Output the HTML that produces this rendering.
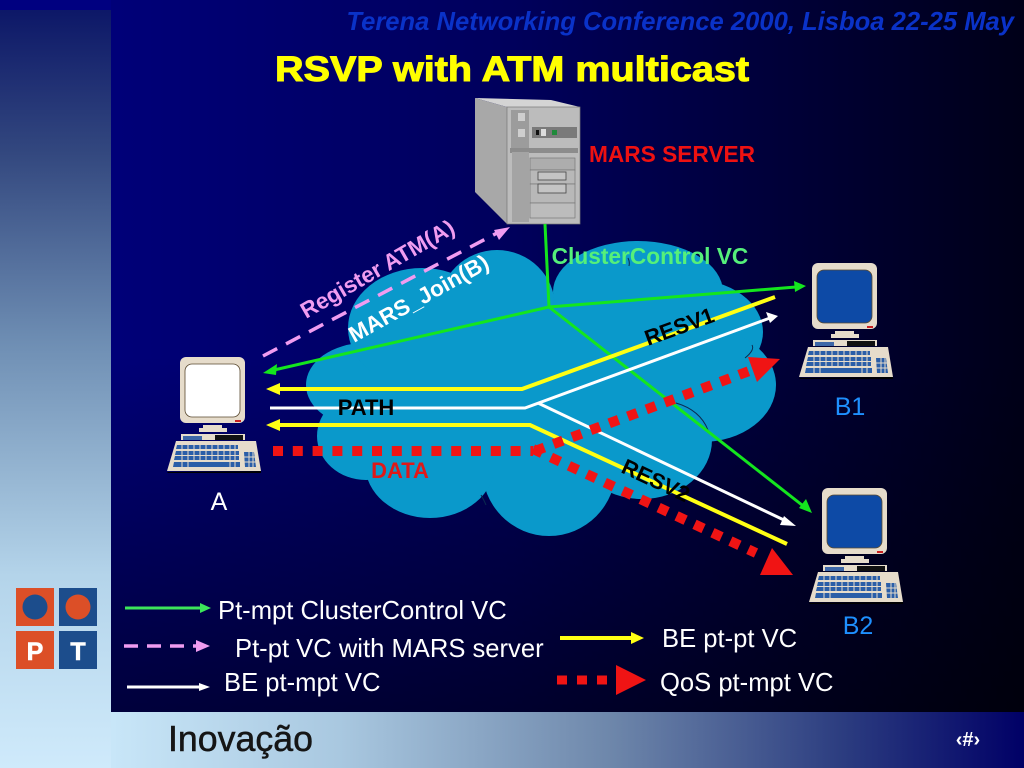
<!DOCTYPE html>
<html><head><meta charset="utf-8"><style>
html,body{margin:0;padding:0;background:#000}
svg{display:block}
text{font-family:"Liberation Sans",sans-serif}
</style></head><body>
<svg xmlns="http://www.w3.org/2000/svg" width="1024" height="768" viewBox="0 0 1024 768">
<defs>
<linearGradient id="bg" x1="0" y1="0" x2="1" y2="0"><stop offset="0" stop-color="#000080"/><stop offset="0.5" stop-color="#00005c"/><stop offset="1" stop-color="#000018"/></linearGradient>
<linearGradient id="dim" x1="0" y1="0" x2="0" y2="1"><stop offset="0.5" stop-color="#000" stop-opacity="0"/><stop offset="1" stop-color="#000" stop-opacity="0.5"/></linearGradient>
<linearGradient id="side" x1="0" y1="0" x2="0" y2="1"><stop offset="0" stop-color="#0a1466"/><stop offset="0.2" stop-color="#33487f"/><stop offset="0.45" stop-color="#6f8fb4"/><stop offset="0.75" stop-color="#b4d4ea"/><stop offset="1" stop-color="#cfeafb"/></linearGradient>
<linearGradient id="bot" x1="0" y1="0" x2="1" y2="0"><stop offset="0" stop-color="#c8e6f8"/><stop offset="0.25" stop-color="#a9c8e0"/><stop offset="0.55" stop-color="#6d86aa"/><stop offset="0.8" stop-color="#2c3d80"/><stop offset="1" stop-color="#000066"/></linearGradient>
<g id="pc">
<rect x="0" y="0" width="65" height="66" rx="6" fill="#e6dccb"/>
<rect x="5" y="7" width="55" height="53" rx="7" fill="var(--s)" stroke="#5a4a30" stroke-width="0.8"/>
<rect x="55" y="63" width="6" height="2" fill="#c92020"/>
<rect x="23" y="68" width="19" height="4" fill="#e6dccb"/>
<rect x="19" y="71" width="28" height="4" fill="#e6dccb"/>
<rect x="1" y="77" width="64" height="6" fill="#e6dccb"/>
<rect x="3" y="79" width="19" height="4" fill="#3d67a8"/>
<rect x="35" y="78" width="28" height="5" fill="#111"/>
<path d="M-13 115L-12 116H81V114Z" fill="#000"/>
<path d="M-4 84H76L81 114H-13Z" fill="#e6dccb"/>
<g fill="#2a5ea8">
<path d="M-3 88H58V92H-4Z"/>
<path d="M-4 94H59V98H-5Z"/>
<path d="M-5 99H59V103H-6Z"/>
<path d="M-6 105H60V110H-7Z"/>
<path d="M64 95H74L76 110H65Z"/>
</g>
<g stroke="#e6dccb" stroke-width="1" fill="none"><path d="M2 87V111M8 87V111M14 87V104M20 87V104M26 87V104M32 87V104M38 87V104M44 87V104M50 87V111M55 87V111M69 94V111M73 94V111M63 100H77M63 105H77"/></g>
</g>
</defs>
<rect width="1024" height="768" fill="url(#bg)"/>
<rect width="1024" height="712" fill="url(#dim)"/>
<rect x="0" y="0" width="111" height="768" fill="url(#side)"/>
<rect x="0" y="0" width="111" height="10" fill="#000080"/>
<rect x="111" y="712" width="913" height="56" fill="url(#bot)"/>

<!-- PT logo -->
<rect x="16" y="588" width="38" height="38" fill="#dc4f27"/>
<rect x="59" y="588" width="38" height="38" fill="#1c4d8c"/>
<rect x="16" y="631" width="38" height="38" fill="#dc4f27"/>
<rect x="59" y="631" width="38" height="38" fill="#1c4d8c"/>
<circle cx="35" cy="607" r="12.5" fill="#1c4d8c"/>
<circle cx="78" cy="607" r="12.5" fill="#dc4f27"/>
<text x="35" y="660" font-size="25" font-weight="bold" fill="#fff" text-anchor="middle" stroke="#fff" stroke-width="0.6">P</text>
<text x="78" y="660" font-size="25" font-weight="bold" fill="#fff" text-anchor="middle" stroke="#fff" stroke-width="0.6">T</text>

<text x="168" y="751" font-size="36" fill="#151515" stroke="#151515" stroke-width="0.5" textLength="145" lengthAdjust="spacingAndGlyphs">Inovação</text>
<text x="968" y="746" font-size="20" font-weight="bold" fill="#fff" text-anchor="middle">‹#›</text>

<text x="1014" y="30" font-size="25.6" font-weight="bold" font-style="italic" fill="#0a32c8" text-anchor="end">Terena Networking Conference 2000, Lisboa 22-25 May</text>
<text x="275" y="81" font-size="35" font-weight="bold" fill="#ffff00" stroke="#ffff00" stroke-width="1" textLength="474" lengthAdjust="spacingAndGlyphs">RSVP with ATM multicast</text>

<!-- cloud -->
<g fill="#0a99cb">
<ellipse cx="365" cy="385" rx="59" ry="42"/>
<ellipse cx="422" cy="328" rx="74" ry="60"/>
<ellipse cx="497" cy="307" rx="58" ry="57"/>
<ellipse cx="638" cy="292" rx="85" ry="51"/>
<ellipse cx="690" cy="332" rx="73" ry="53"/>
<ellipse cx="702" cy="385" rx="74" ry="57"/>
<ellipse cx="642" cy="440" rx="70" ry="59"/>
<ellipse cx="549" cy="468" rx="67" ry="68"/>
<ellipse cx="430" cy="464" rx="65" ry="54"/>
<ellipse cx="366" cy="436" rx="49" ry="44"/>
<rect x="370" y="300" width="320" height="170"/>
</g>
<g fill="none" stroke="#0a2a50" stroke-width="1">
<path d="M676 403Q700 410 708 430"/>
<path d="M481 495Q484 500 486 505"/>
<path d="M628 258Q630 262 629 266"/>
<path d="M745 358Q755 350 752 345"/>
</g>

<!-- server -->
<g>
<path d="M475 98L551 100L580 107L507 107Z" fill="#d4d4d4"/>
<path d="M475 98L507 107V224L475 192Z" fill="#a8a8a8"/>
<rect x="507" y="107" width="73" height="117" fill="#bcbcbc" stroke="#777" stroke-width="0.7"/>
<rect x="510" y="148" width="68" height="5" fill="#8c8c8c"/>
<rect x="511" y="110" width="18" height="38" fill="#9c9c9c"/>
<rect x="518" y="113" width="7" height="8" fill="#cfcfcf"/>
<rect x="518" y="129" width="7" height="8" fill="#cfcfcf"/>
<rect x="532" y="127" width="45" height="11" fill="#7a7a7a"/>
<rect x="536" y="130" width="3" height="5" fill="#111"/>
<rect x="541" y="129" width="5" height="7" fill="#ddd"/>
<rect x="552" y="130" width="5" height="5" fill="#1f8a3a"/>
<rect x="512" y="152" width="17" height="70" fill="#a4a4a4"/>
<rect x="530" y="158" width="45" height="12" fill="#adadad" stroke="#777" stroke-width="0.7"/>
<rect x="530" y="170" width="45" height="14" fill="#b8b8b8" stroke="#777" stroke-width="0.7"/>
<rect x="538" y="172" width="28" height="8" fill="#c4c4c4" stroke="#444" stroke-width="0.8"/>
<rect x="530" y="184" width="45" height="19" fill="#b8b8b8" stroke="#777" stroke-width="0.7"/>
<rect x="538" y="184" width="28" height="9" fill="#c4c4c4" stroke="#444" stroke-width="0.8"/>
<rect x="530" y="203" width="45" height="15" fill="#bcbcbc" stroke="#777" stroke-width="0.7"/>
</g>

<!-- computers -->
<g style="--s:#ffffff" transform="translate(180,357)"><use href="#pc"/></g>
<g style="--s:#0d4aa6" transform="translate(812,263)"><use href="#pc"/></g>
<g style="--s:#0d4aa6" transform="translate(822,488)"><use href="#pc"/></g>

<!-- green lines -->
<g stroke="#14e61e" stroke-width="3" fill="none">
<path d="M545 224L549 307"/>
<path d="M549 307L274 370"/>
<path d="M549 307L796 287"/>
<path d="M549 307L802 505"/>
</g>
<path d="M263 373L277 364L276 375Z" fill="#14e61e"/>
<path d="M806 286L794 281L795 292Z" fill="#14e61e"/>
<path d="M812 513L799 508L806 499Z" fill="#14e61e"/>

<!-- pink dashed -->
<path d="M263 356L497 233" stroke="#f09cf0" stroke-width="3.5" stroke-dasharray="16 10" fill="none"/>
<path d="M510 227L494 230L499 240Z" fill="#f09cf0"/>

<!-- yellow -->
<g stroke="#ffff14" stroke-width="4" fill="none">
<path d="M278 389H522L775 297"/>
<path d="M278 425H530L787 544"/>
</g>
<path d="M266 389L280 383V395Z" fill="#ffff14"/>
<path d="M266 425L280 419V431Z" fill="#ffff14"/>

<!-- white -->
<g stroke="#fff" stroke-width="3" fill="none">
<path d="M270 408H525L770 318"/>
<path d="M538 403L786 521"/>
</g>
<path d="M778 316L766 312L770 323Z" fill="#fff"/>
<path d="M796 526L784 516L780 525Z" fill="#fff"/>

<!-- red -->
<g stroke="#f01414" stroke-width="10" fill="none" stroke-dasharray="10 9.8">
<path d="M273 451H533"/>
<path d="M535 451L752 370"/>
<path d="M533 449L756 553"/>
</g>
<path d="M748 357L780 359L757 382Z" fill="#f01414"/>
<path d="M772 548L793 575L760 575Z" fill="#f01414"/>

<!-- labels -->
<text x="672" y="162" font-size="22.7" font-weight="bold" fill="#ee1111" text-anchor="middle">MARS SERVER</text>
<text x="650" y="264" font-size="22.7" font-weight="bold" fill="#55f07a" text-anchor="middle">ClusterControl VC</text>
<text transform="translate(306,319) rotate(-30)" font-size="22.5" font-weight="bold" fill="#f09cf0">Register ATM(A)</text>
<text transform="translate(354,343) rotate(-29)" font-size="22.5" font-weight="bold" fill="#fff">MARS_Join(B)</text>
<text transform="translate(648,346) rotate(-20)" font-size="22" font-weight="bold" fill="#000">RESV1</text>
<text transform="translate(620,472) rotate(25)" font-size="22" font-weight="bold" fill="#000">RESV2</text>
<text x="366" y="415" font-size="22" font-weight="bold" fill="#000" text-anchor="middle">PATH</text>
<text x="400" y="478" font-size="22" font-weight="bold" fill="#e01818" text-anchor="middle">DATA</text>
<text x="219" y="510" font-size="25" fill="#fff" text-anchor="middle">A</text>
<text x="850" y="415" font-size="25" fill="#1e90ff" text-anchor="middle">B1</text>
<text x="858" y="634" font-size="25" fill="#1e90ff" text-anchor="middle">B2</text>

<!-- legend -->
<path d="M125 608H202" stroke="#3ce65a" stroke-width="3"/><path d="M211 608L200 603V613Z" fill="#3ce65a"/>
<path d="M124 646H199" stroke="#f09cf0" stroke-width="3.5" stroke-dasharray="14 9"/><path d="M210 646L196 640V652Z" fill="#f09cf0"/>
<path d="M127 687H200" stroke="#fff" stroke-width="3"/><path d="M210 687L199 683V691Z" fill="#fff"/>
<path d="M560 638H633" stroke="#ffff14" stroke-width="4"/><path d="M644 638L631 632V644Z" fill="#ffff14"/>
<path d="M557 680H607" stroke="#f01414" stroke-width="9" stroke-dasharray="10 10"/>
<path d="M616 665L646 680L616 695Z" fill="#f01414"/>
<g font-size="25.6" fill="#fff">
<text x="218" y="619">Pt-mpt ClusterControl VC</text>
<text x="235" y="657">Pt-pt VC with MARS server</text>
<text x="224" y="691">BE pt-mpt VC</text>
<text x="662" y="647">BE pt-pt VC</text>
<text x="660" y="691">QoS pt-mpt VC</text>
</g>
</svg>
</body></html>
